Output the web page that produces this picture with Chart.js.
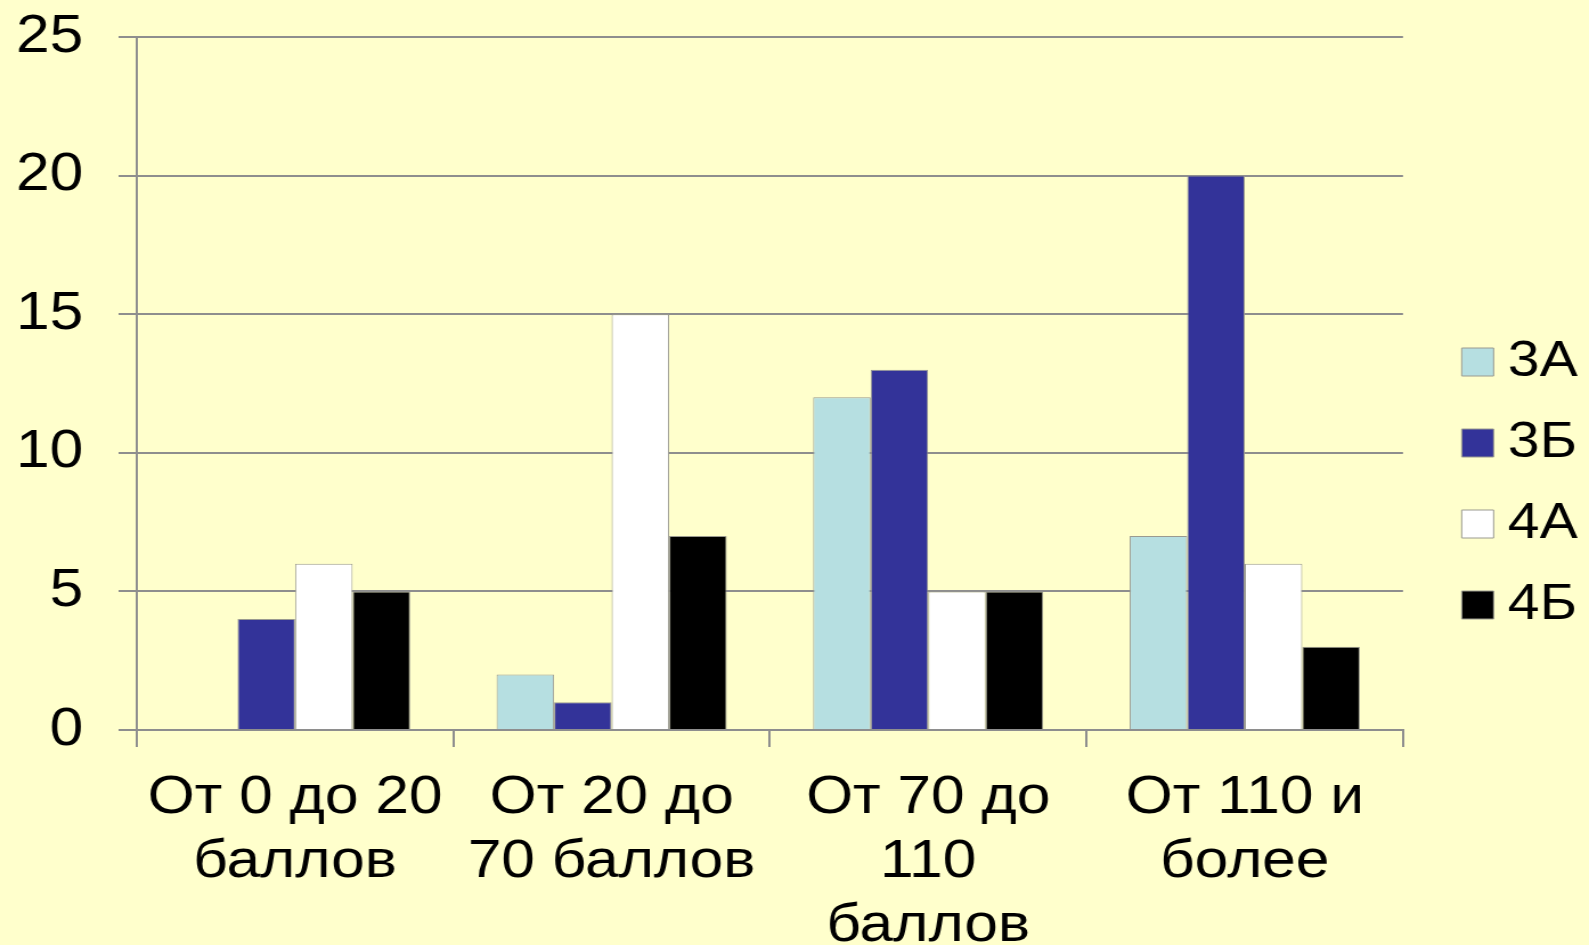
<!DOCTYPE html>
<html>
<head>
<meta charset="utf-8">
<script src="https://cdn.jsdelivr.net/npm/chart.js@4.4.1/dist/chart.umd.min.js"></script>
<style>
  html, body { margin: 0; padding: 0; background: #FFFFCC; overflow: hidden; }
  #c { display: block; width: 1589px; height: 945px; }
</style>
</head>
<body>
<canvas id="c" width="1394" height="945" style="width:1589px;height:945px;"></canvas>
<script>
// ---- data ----
const categories = [
  ["От 0 до 20", "баллов"],
  ["От 20 до", "70 баллов"],
  ["От 70 до", "110", "баллов"],
  ["От 110 и", "более"]
];
const seriesNames = ["3А", "3Б", "4А", "4Б"];
const values3A = [0, 2, 12, 7];
const values3B = [4, 1, 13, 20];
const values4A = [6, 15, 5, 6];
const values4B = [5, 7, 5, 3];
const yMin = 0;
const yMax = 25;
const yStep = 5;

// ---- styles ----
const colors = ["#B6DFE1", "#333399", "#FFFFFF", "#000000"];
const borderCol = "#9A9A90";
const gridCol = "#8E8E8E";
const fontFamily = "'Liberation Sans', Arial, sans-serif";

const seriesValues = [values3A, values3B, values4A, values4B];
const datasets = seriesNames.map((name, i) => ({
  label: name,
  data: seriesValues[i],
  backgroundColor: colors[i],
  borderColor: borderCol,
  borderWidth: 1,
  categoryPercentage: 0.727,
  barPercentage: 1.0,
  yAxisID: 'y'
}));

new Chart(document.getElementById('c'), {
  type: 'bar',
  data: { labels: categories, datasets: datasets },
  options: {
    responsive: false,
    animation: false,
    devicePixelRatio: 1,
    layout: { padding: { top: 22, bottom: 0, left: 0, right: 0 } },
    plugins: {
      tooltip: { enabled: false },
      legend: {
        position: 'right',
        align: 'center',
        labels: {
          usePointStyle: true,
          pointStyle: 'rect',
          boxWidth: 3,
          boxHeight: 28,
          padding: 31,
          color: '#000000',
          font: { family: fontFamily, size: 50 }
        }
      }
    },
    scales: {
      x: {
        grid: {
          display: true,
          drawOnChartArea: false,
          drawTicks: true,
          tickLength: 17,
          color: gridCol,
          lineWidth: 2,
          offset: true
        },
        border: { display: true, color: gridCol, width: 2 },
        ticks: {
          color: '#000000',
          padding: 20,
          maxRotation: 0,
          minRotation: 0,
          autoSkip: false,
          font: { family: fontFamily, size: 53, lineHeight: 1.2 }
        },
        afterFit(s) { s.height = 215; }
      },
      y: {
        min: yMin,
        max: yMax,
        position: 'left',
        grid: {
          color: gridCol,
          lineWidth: 2,
          drawTicks: true,
          tickLength: 16
        },
        border: { display: true, color: gridCol, width: 2 },
        ticks: {
          stepSize: yStep,
          color: '#000000',
          padding: 31,
          font: { family: fontFamily, size: 53, lineHeight: 1.2 }
        },
        afterFit(s) { s.width = 120; s.paddingTop = 37; s.paddingBottom = 0; }
      },
      y2: {
        type: 'linear',
        position: 'right',
        display: true,
        grid: { display: false, drawTicks: false },
        border: { display: false },
        ticks: { display: false },
        afterFit(s) { s.width = 33; s.paddingTop = 0; s.paddingBottom = 0; }
      }
    }
  }
});
</script>
</body>
</html>
